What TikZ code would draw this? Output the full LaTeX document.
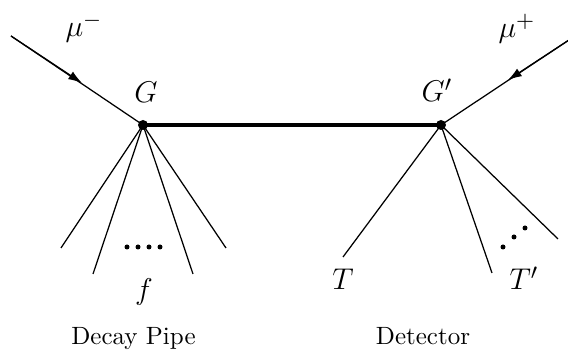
\documentclass[tikz,border=0pt]{standalone}
\usetikzlibrary{arrows.meta}
\begin{document}
\begin{tikzpicture}[x=0.4pt,y=-0.4pt,
  thin line/.style={line width=0.5pt},
  thick line/.style={line width=1.6pt},
  vertex/.style={circle,fill=black,inner sep=0pt,minimum size=4pt},
  smalldot/.style={circle,fill=black,inner sep=0pt,minimum size=2pt},
  lbl/.style={anchor=base,inner sep=0pt},
  mlbl/.style={anchor=base,inner sep=0pt,font=\fontsize{12.5}{15}\selectfont}]
\useasboundingbox (0,0) rectangle (568,350);
% vertices
\node[vertex] (G) at (143,125) {};
\node[vertex] (Gp) at (441,125) {};
% incoming muons
\coordinate (mm) at (11,36);
\coordinate (mma) at (82,83);
\coordinate (mp) at (569,40);
\coordinate (mpa) at (508,80);
\draw[thin line] (mm) -- (G.center);
\draw[thin line,-{Latex[length=5.5pt,width=3.6pt]}] (mm) -- (mma);
\draw[thin line] (mp) -- (Gp.center);
\draw[thin line,-{Latex[length=5.5pt,width=3.6pt]}] (mp) -- (mpa);
% propagator
\draw[thick line] (G.center) -- (Gp.center);
% left fan
\coordinate (f1) at (61,248);
\coordinate (f2) at (93,274);
\coordinate (f3) at (193,274);
\coordinate (f4) at (226,248);
\foreach \e in {f1,f2,f3,f4} \draw[thin line] (G.center) -- (\e);
\foreach \x [count=\i] in {127,138,149,160} \node[smalldot] (ld\i) at (\x,247) {};
% right fan
\coordinate (t1) at (343,257);
\coordinate (t2) at (492,273);
\coordinate (t3) at (558,239);
\foreach \e in {t1,t2,t3} \draw[thin line] (Gp.center) -- (\e);
\node[smalldot] (rd1) at (503,247) {};
\node[smalldot] (rd2) at (514,237) {};
\node[smalldot] (rd3) at (525,228) {};
% labels
\node[mlbl] (lmm) at (84,37) {$\mu^-$};
\node[mlbl] (lmp) at (517,38) {$\mu^+$};
\node[mlbl] (lG) at (146,103) {$G$};
\node[mlbl] (lGp) at (437,102) {$G'$};
\node[mlbl] (lf) at (144,300) {$f$};
\node[mlbl] (lT) at (343,290) {$T$};
\node[mlbl] (lTp) at (524,290) {$T'$};
\node[lbl] (ldp) at (133.5,345) {Decay Pipe};
\node[lbl] (ldet) at (423,345) {Detector};
\end{tikzpicture}
\end{document}
